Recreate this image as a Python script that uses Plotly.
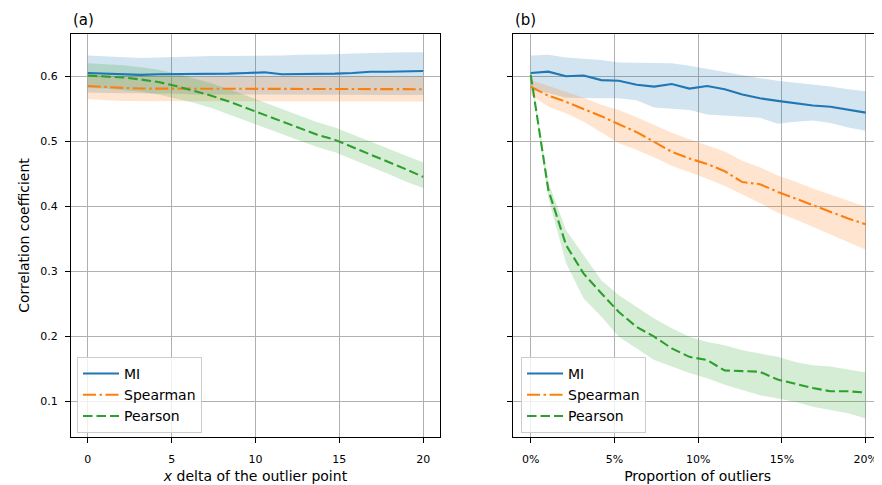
import plotly.graph_objects as go

# ---------------- data ----------------
# (a) x delta of the outlier point
delta_x = [0, 1.05, 2.11, 3.16, 4.21, 5.26, 6.32, 7.37, 8.42, 9.47,
           10.53, 11.58, 12.63, 13.68, 14.74, 15.79, 16.84, 17.89, 18.95, 20]
a_mi = [0.605, 0.604, 0.602, 0.602, 0.603, 0.603, 0.603, 0.603, 0.604, 0.605,
        0.606, 0.603, 0.603, 0.604, 0.604, 0.605, 0.607, 0.607, 0.608, 0.608]
a_mi_hi = [0.632, 0.631, 0.629, 0.628, 0.629, 0.630, 0.631, 0.631, 0.631, 0.631,
           0.632, 0.632, 0.633, 0.633, 0.634, 0.635, 0.636, 0.636, 0.637, 0.637]
a_mi_lo = [0.575, 0.574, 0.573, 0.573, 0.573, 0.573, 0.572, 0.572, 0.572, 0.572,
           0.572, 0.572, 0.571, 0.571, 0.571, 0.571, 0.571, 0.571, 0.571, 0.571]
a_sp = [0.585, 0.583, 0.582, 0.581, 0.581, 0.580, 0.580, 0.580, 0.580, 0.580,
        0.580, 0.580, 0.580, 0.580, 0.580, 0.580, 0.580, 0.580, 0.580, 0.580]
a_sp_hi = [0.603, 0.601, 0.600, 0.599, 0.599, 0.599, 0.599, 0.599, 0.599, 0.599,
           0.599, 0.599, 0.599, 0.599, 0.599, 0.599, 0.599, 0.599, 0.599, 0.599]
a_sp_lo = [0.565, 0.563, 0.562, 0.562, 0.562, 0.562, 0.561, 0.561, 0.561, 0.561,
           0.561, 0.561, 0.561, 0.561, 0.561, 0.561, 0.561, 0.561, 0.561, 0.561]
a_pe = [0.601, 0.600, 0.598, 0.595, 0.591, 0.585, 0.578, 0.570, 0.561, 0.551,
        0.541, 0.530, 0.520, 0.510, 0.502, 0.491, 0.480, 0.469, 0.457, 0.445]
a_pe_hi = [0.620, 0.619, 0.617, 0.614, 0.610, 0.604, 0.597, 0.589, 0.580, 0.570,
           0.560, 0.549, 0.539, 0.529, 0.521, 0.510, 0.499, 0.488, 0.477, 0.467]
a_pe_lo = [0.582, 0.581, 0.579, 0.576, 0.572, 0.566, 0.559, 0.551, 0.542, 0.532,
           0.522, 0.511, 0.501, 0.491, 0.483, 0.472, 0.461, 0.450, 0.438, 0.428]

# (b) proportion of outliers
prop = [0, 0.0105, 0.0211, 0.0316, 0.0421, 0.0526, 0.0632, 0.0737, 0.0842, 0.0947,
        0.1053, 0.1158, 0.1263, 0.1368, 0.1474, 0.1579, 0.1684, 0.1789, 0.1895, 0.20]
b_mi = [0.605, 0.607, 0.600, 0.601, 0.594, 0.593, 0.587, 0.584, 0.588, 0.581,
        0.585, 0.580, 0.572, 0.566, 0.562, 0.558, 0.555, 0.553, 0.548, 0.544]
b_mi_hi = [0.632, 0.633, 0.629, 0.627, 0.625, 0.621, 0.621, 0.620, 0.620, 0.616,
           0.611, 0.607, 0.601, 0.597, 0.593, 0.590, 0.588, 0.584, 0.580, 0.577]
b_mi_lo = [0.578, 0.574, 0.567, 0.566, 0.566, 0.566, 0.563, 0.552, 0.550, 0.548,
           0.541, 0.540, 0.538, 0.536, 0.527, 0.530, 0.532, 0.528, 0.521, 0.516]
b_sp = [0.584, 0.570, 0.5605, 0.550, 0.5385, 0.526, 0.514, 0.499, 0.4836, 0.4733,
        0.465, 0.4538, 0.437, 0.4338, 0.422, 0.4118, 0.4015, 0.391, 0.381, 0.372]
b_sp_hi = [0.594, 0.585, 0.575, 0.567, 0.556, 0.548, 0.537, 0.525, 0.513, 0.503,
           0.494, 0.484, 0.470, 0.460, 0.447, 0.438, 0.427, 0.418, 0.408, 0.399]
b_sp_lo = [0.571, 0.553, 0.543, 0.530, 0.513, 0.497, 0.487, 0.475, 0.462, 0.452,
           0.442, 0.431, 0.418, 0.405, 0.390, 0.380, 0.368, 0.357, 0.345, 0.333]
b_pe = [0.602, 0.425, 0.340, 0.296, 0.266, 0.237, 0.214, 0.199, 0.181, 0.168,
        0.163, 0.147, 0.146, 0.145, 0.133, 0.126, 0.120, 0.115, 0.115, 0.113]
b_pe_hi = [0.606, 0.437, 0.363, 0.325, 0.286, 0.263, 0.245, 0.227, 0.212, 0.199,
           0.191, 0.186, 0.178, 0.173, 0.168, 0.160, 0.155, 0.153, 0.148, 0.144]
b_pe_lo = [0.598, 0.413, 0.312, 0.258, 0.230, 0.199, 0.181, 0.163, 0.153, 0.143,
           0.135, 0.125, 0.117, 0.109, 0.104, 0.099, 0.091, 0.086, 0.081, 0.073]

y_ticks = [0.1, 0.2, 0.3, 0.4, 0.5, 0.6]
a_x_ticks = [0, 5, 10, 15, 20]
b_x_ticks = [0, 0.05, 0.10, 0.15, 0.20]
names = ["MI", "Spearman", "Pearson"]

# ---------------- style ----------------
COLORS = ["#1f77b4", "#ff7f0e", "#2ca02c"]
FILLS = ["rgba(31,119,180,0.2)", "rgba(255,127,14,0.2)", "rgba(44,160,44,0.2)"]
DASHES = ["solid", "13px,3.5px,2.5px,3.5px", "9.5px,4px"]
FONT = "DejaVu Sans"

fig = go.Figure()

panels = [
    ("x", "y", "legend", delta_x,
     [(a_mi, a_mi_hi, a_mi_lo), (a_sp, a_sp_hi, a_sp_lo), (a_pe, a_pe_hi, a_pe_lo)]),
    ("x2", "y2", "legend2", prop,
     [(b_mi, b_mi_hi, b_mi_lo), (b_sp, b_sp_hi, b_sp_lo), (b_pe, b_pe_hi, b_pe_lo)]),
]

for xa, ya, leg, xs, series in panels:
    for k, (mid, hi, lo) in enumerate(series):
        fig.add_trace(go.Scatter(
            x=list(xs) + list(xs)[::-1], y=list(hi) + list(lo)[::-1],
            fill="toself", fillcolor=FILLS[k], line=dict(width=0),
            mode="lines", hoverinfo="skip", showlegend=False,
            xaxis=xa, yaxis=ya))
    for k, (mid, hi, lo) in enumerate(series):
        fig.add_trace(go.Scatter(
            x=xs, y=mid, mode="lines", name=names[k],
            line=dict(color=COLORS[k], width=2.1, dash=DASHES[k]),
            legend=leg, legendgroup=leg + names[k], showlegend=True,
            xaxis=xa, yaxis=ya))

axis_common = dict(
    showline=True, linecolor="black", linewidth=1.2, mirror=True,
    ticks="outside", ticklen=5, tickwidth=1.1, tickcolor="black",
    showgrid=True, gridcolor="#b0b0b0", gridwidth=1.1, zeroline=False,
    tickfont=dict(family=FONT, size=11, color="black"),
)

Y_RANGE = [0.0446, 0.665]

# the page body adds an 8px offset; the figure is sized to fit the window after it
fig.update_layout(
    width=874, height=477,
    margin=dict(l=63, r=0, t=26, b=48),
    paper_bgcolor="white", plot_bgcolor="white",
    font=dict(family=FONT, size=14, color="black"),
    xaxis=dict(domain=[0, 0.455], range=[-1, 21], tickvals=a_x_ticks,
               title=dict(text="<i>x</i> delta of the outlier point",
                          font=dict(size=14), standoff=5),
               ticklabelstandoff=7, **axis_common),
    yaxis=dict(range=Y_RANGE, tickvals=y_ticks, tickformat=".1f",
               title=dict(text="Correlation coefficient", font=dict(size=14), standoff=7),
               ticklabelstandoff=5, **axis_common),
    xaxis2=dict(domain=[0.5454, 1.0], range=[-0.0104, 0.2097], tickvals=b_x_ticks,
                tickformat=".0%", anchor="y2",
                title=dict(text="Proportion of outliers", font=dict(size=14), standoff=5),
                ticklabelstandoff=7, **axis_common),
    yaxis2=dict(range=Y_RANGE, tickvals=y_ticks, anchor="x2", showticklabels=False,
                **axis_common),
    legend=dict(x=0.0074, y=0.010, xanchor="left", yanchor="bottom",
                bgcolor="rgba(255,255,255,0.8)", bordercolor="#cccccc", borderwidth=1,
                font=dict(family=FONT, size=14), tracegroupgap=0, itemwidth=36),
    legend2=dict(x=0.5549, y=0.010, xanchor="left", yanchor="bottom",
                 bgcolor="rgba(255,255,255,0.8)", bordercolor="#cccccc", borderwidth=1,
                 font=dict(family=FONT, size=14), tracegroupgap=0, itemwidth=36),
    annotations=[
        dict(text="(a)", xref="paper", yref="paper", x=0, y=1, xanchor="left",
             yanchor="bottom", yshift=3, showarrow=False, font=dict(family=FONT, size=15)),
        dict(text="(b)", xref="paper", yref="paper", x=0.5454, y=1, xanchor="left",
             yanchor="bottom", yshift=3, showarrow=False, font=dict(family=FONT, size=15)),
    ],
)

fig.write_html("out.html")
